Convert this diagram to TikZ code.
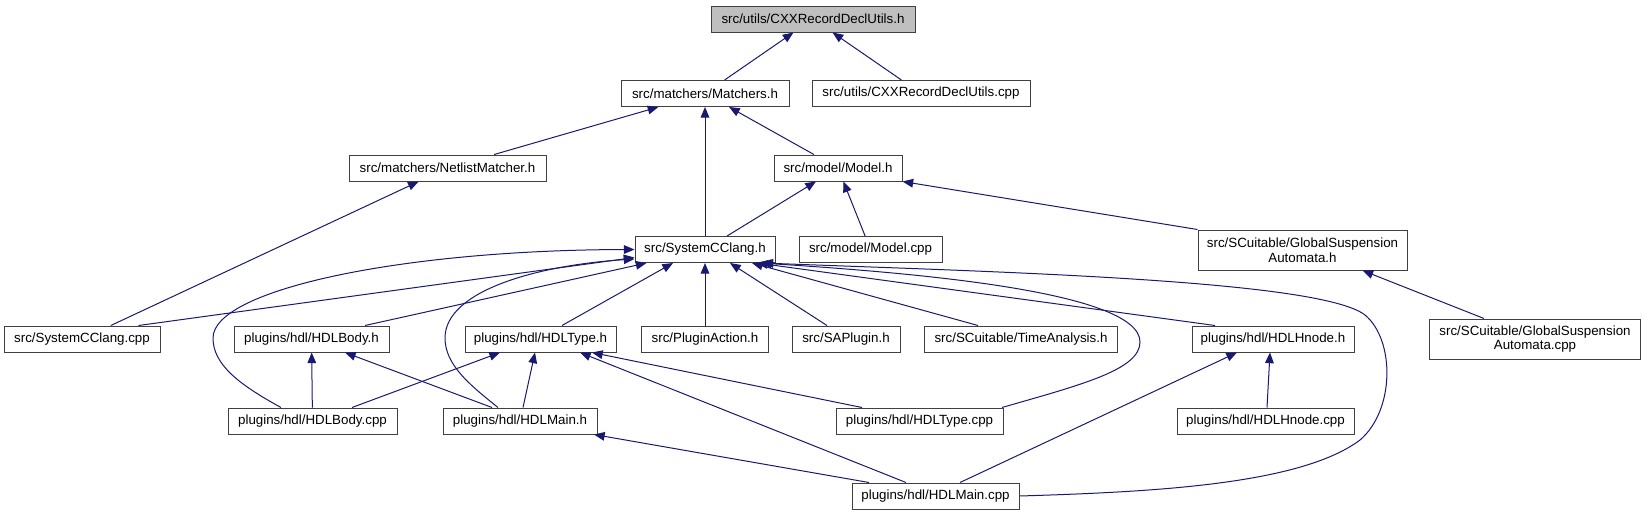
\documentclass[tikz,border=0pt]{standalone}
\usepackage{fontspec}
\setmainfont{Liberation Sans}
\usetikzlibrary{arrows.meta,calc}
\definecolor{edgec}{HTML}{191970}
\definecolor{rootfill}{HTML}{BFBFBF}
\begin{document}
\begin{tikzpicture}[x=0.75pt,y=-0.75pt,
  box/.style={draw=black!75, line width=0.75pt, fill=white, inner sep=0pt,
    minimum height=19.5pt, font=\fontsize{10}{11}\selectfont, align=center},
  edge/.style={draw=edgec, line width=0.75pt, -{Triangle[length=8pt,width=6.5pt]}}]
\useasboundingbox (0,0) rectangle (1645,515);
% nodes
\node[box, fill=rootfill, minimum width=153pt] (root) at (813,19) {src/utils/CXXRecordDeclUtils.h};
\node[box, minimum width=126pt] (match) at (705,93.5) {src/matchers/Matchers.h};
\node[box, minimum width=163.5pt] (cxxcpp) at (921,93.5) {src/utils/CXXRecordDeclUtils.cpp};
\node[box, minimum width=147.75pt] (netl) at (447.5,168) {src/matchers/NetlistMatcher.h};
\node[box, minimum width=96pt] (model) at (838,168) {src/model/Model.h};
\node[box, minimum width=105pt] (scch) at (705,249.5) {src/SystemCClang.h};
\node[box, minimum width=107.25pt] (modelcpp) at (870.5,249.5) {src/model/Model.cpp};
\node[box, minimum width=156.75pt, minimum height=30pt] (gsah) at (1302.5,250) {src/SCuitable/GlobalSuspension\\Automata.h};
\node[box, minimum width=117pt] (scccpp) at (82,339) {src/SystemCClang.cpp};
\node[box, minimum width=116.25pt] (bodyh) at (311.5,339) {plugins/hdl/HDLBody.h};
\node[box, minimum width=113.25pt] (typeh) at (540.5,339) {plugins/hdl/HDLType.h};
\node[box, minimum width=95.6pt] (plug) at (705,339) {src/PluginAction.h};
\node[box, minimum width=81pt] (sap) at (846,339) {src/SAPlugin.h};
\node[box, minimum width=144.75pt] (time) at (1021,339) {src/SCuitable/TimeAnalysis.h};
\node[box, minimum width=121.5pt] (hnodeh) at (1273,339) {plugins/hdl/HDLHnode.h};
\node[box, minimum width=157.9pt, minimum height=30pt] (gsacpp) at (1535,339) {src/SCuitable/GlobalSuspension\\Automata.cpp};
\node[box, minimum width=126.75pt] (bodycpp) at (312.5,421) {plugins/hdl/HDLBody.cpp};
\node[box, minimum width=115.5pt] (mainh) at (520,421) {plugins/hdl/HDLMain.h};
\node[box, minimum width=125.25pt] (typecpp) at (919.5,421) {plugins/hdl/HDLType.cpp};
\node[box, minimum width=132.75pt] (hnodecpp) at (1265.5,421) {plugins/hdl/HDLHnode.cpp};
\node[box, minimum width=125.25pt] (maincpp) at (935.5,496) {plugins/hdl/HDLMain.cpp};
% edges
\draw[edge] (match) -- (root);
\draw[edge] (cxxcpp) -- (root);
\draw[edge] (netl) -- (match);
\draw[edge] (scch) -- (match);
\draw[edge] (model) -- (match);
\draw[edge] (scch) -- (model);
\draw[edge] (modelcpp) -- (model);
\draw[edge] (gsah.north west) -- (model.south east);
\draw[edge] ($(gsacpp.north)+(-51,0)$) -- ($(gsah.south)+(60,0)$);
\draw[edge] (scccpp) -- (netl);
\draw[edge] ($(scccpp.north)+(56.5,0)$) -- ($(scch.west)+(0,8)$);
\draw[edge] ($(bodyh.north)+(53.5,0)$) -- ($(scch.south west)+(12,0)$);
\draw[edge] ($(bodycpp.north)+(-31.5,0)$) .. controls (240,385) and (213,365) .. (213,338)
  .. controls (213,290) and (400,250) .. (scch.west);
\draw[edge] ($(mainh.north)+(-22,0)$) .. controls (470,385) and (445,365) .. (445,338)
  .. controls (445,290) and (540,265) .. ($(scch.west)+(0,9.5)$);
\draw[edge] ($(typeh.north)+(21.5,0)$) -- ($(scch.south)+(-32,0)$);
\draw[edge] (plug) -- (scch);
\draw[edge] ($(sap.north)+(-19,0)$) -- ($(scch.south)+(25,0)$);
\draw[edge] ($(time.north)+(-43,0)$) -- ($(scch.south)+(47,0)$);
\draw[edge] ($(hnodeh.north)+(-58,0)$) -- ($(scch.south)+(52,0)$);
\draw[edge] ($(typecpp.north)+(82.5,0)$) .. controls (1080,385) and (1140,370) .. (1140,342)
  .. controls (1140,290) and (900,272) .. ($(scch.south east)+(-15,0)$);
\draw[edge] (maincpp.east) .. controls (1150,492) and (1300,485) .. (1360,440)
  .. controls (1395,410) and (1395,340) .. (1365,315)
  .. controls (1320,280) and (1000,272) .. ($(scch.south east)+(-13,0)$);
\draw[edge] (bodycpp) -- (bodyh);
\draw[edge] ($(mainh.north)+(-28,0)$) -- ($(bodyh.south)+(33.5,0)$);
\draw[edge] ($(bodycpp.north)+(39.5,0)$) -- ($(typeh.south)+(-40.5,0)$);
\draw[edge] ($(mainh.north)+(3,0)$) -- ($(typeh.south)+(-5.5,0)$);
\draw[edge] ($(typecpp.north)+(-57.5,0)$) -- ($(typeh.south)+(51.5,0)$);
\draw[edge] ($(maincpp.north)+(-29.5,0)$) -- ($(typeh.south)+(39.5,0)$);
\draw[edge] ($(maincpp.north)+(-66.5,0)$) -- ($(mainh.south)+(74,0)$);
\draw[edge] ($(maincpp.north)+(24.5,0)$) -- ($(hnodeh.south)+(-36,0)$);
\draw[edge] ($(hnodecpp.north)+(1.5,0)$) -- ($(hnodeh.south)+(-3,0)$);
\end{tikzpicture}
\end{document}
